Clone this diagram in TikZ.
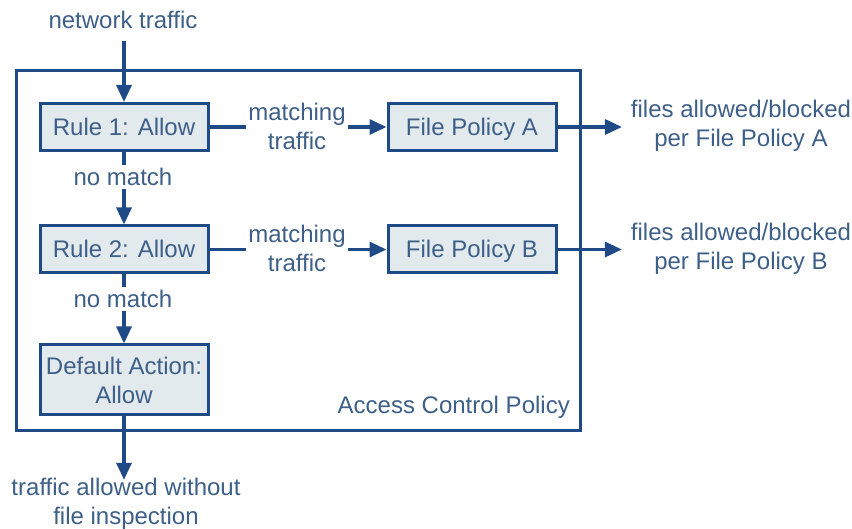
\documentclass[tikz,border=0pt]{standalone}
\usepackage{fontspec}
\setmainfont{Liberation Sans}
\usetikzlibrary{arrows.meta}
\definecolor{ln}{HTML}{1F4A85}
\definecolor{fillb}{HTML}{E2EAEE}
\definecolor{txt}{HTML}{3D5F88}
\tikzset{x=1pt,y=-1pt,
 box/.style={draw=ln,line width=3pt,fill=fillb,minimum width=168pt,minimum height=47pt,inner sep=0pt,text=txt,font=\fontsize{24}{29}\selectfont,align=center},
 onel/.style={text height=17pt,text depth=0pt},
 fpbox/.style={box,onel},
 lab/.style={text=txt,font=\fontsize{24}{29}\selectfont,align=center,inner sep=0pt},
 conn/.style={draw=ln,line width=3.2pt,-{Triangle[length=17pt,width=15pt]}},
 plain/.style={draw=ln,line width=3.2pt}}
\begin{document}
\begin{tikzpicture}
\useasboundingbox (0,0) rectangle (852,529);
\node[draw=ln,line width=3pt,minimum width=564pt,minimum height=360pt,inner sep=0pt] (acp) at (298,250.5) {};
\node[lab,anchor=south east] (acpl) at (570,419) {Access Control Policy};
\node[lab,outer sep=12pt] (nt) at (123,20) {network traffic};
\node[box,onel] (r1) at (124,127) {Rule 1: Allow};
\node[fpbox] (fa) at (472,127) {File Policy A};
\node[box,onel] (r2) at (124,249.5) {Rule 2: Allow};
\node[fpbox] (fb) at (472,249.5) {File Policy B};
\node[box,minimum height=70pt] (d) at (124,380) {Default Action:\\Allow};
\node[lab,outer sep=2pt] (m1) at (297,126) {matching\\traffic};
\node[lab,outer sep=2pt] (m2) at (297,248.5) {matching\\traffic};
\node[lab,outer sep=3pt] (n1) at (123,177) {no match};
\node[lab,outer sep=3pt] (n2) at (123,299) {no match};
\node[lab,outer sep=9pt] (o1) at (741,126) {files allowed/blocked\\per File Policy A};
\node[lab,outer sep=9pt] (o2) at (741,248.5) {files allowed/blocked\\per File Policy B};
\node[lab,outer sep=-2pt] (o3) at (126,503.5) {traffic allowed without\\file inspection};
\draw[conn] (nt.south -| r1.north) -- (r1.north);
\draw[plain] (r1.east) -- (m1.west |- r1.east);
\draw[conn] (m1.east |- fa.west) -- (fa.west);
\draw[plain] (r2.east) -- (m2.west |- r2.east);
\draw[conn] (m2.east |- fb.west) -- (fb.west);
\draw[plain] (r1.south) -- (n1.north -| r1.south);
\draw[conn] (n1.south -| r1.south) -- (r2.north);
\draw[plain] (r2.south) -- (n2.north -| r2.south);
\draw[conn] (n2.south -| r2.south) -- (d.north);
\draw[conn] (fa.east) -- (o1.west |- fa.east);
\draw[conn] (fb.east) -- (o2.west |- fb.east);
\draw[conn] (d.south) -- (o3.north -| d.south);
\end{tikzpicture}
\end{document}
